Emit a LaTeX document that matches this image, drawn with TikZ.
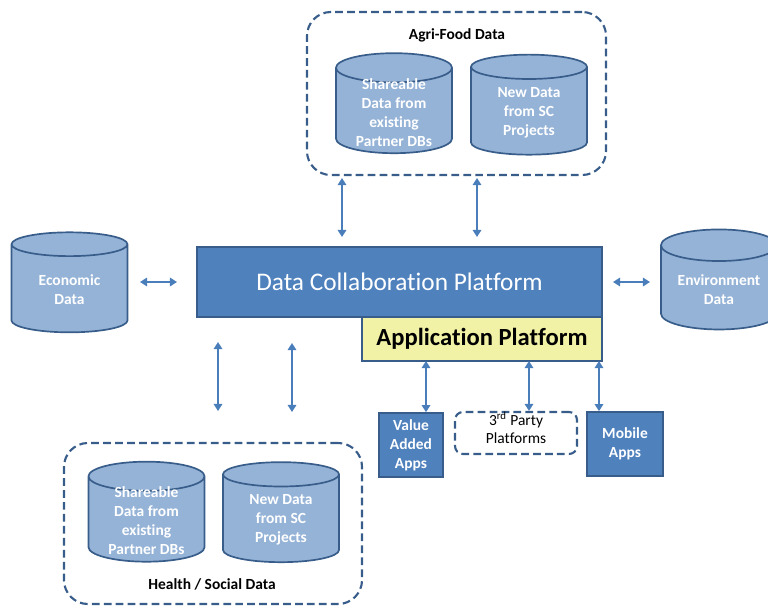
\documentclass[tikz,border=0pt]{standalone}
\usepackage{fontspec}
\setmainfont{Carlito}[Ligatures=NoCommon]
\usetikzlibrary{shapes.geometric,arrows.meta,calc}

\definecolor{dbfill}{RGB}{149,179,215}
\definecolor{dbline}{RGB}{56,93,138}
\definecolor{platfill}{RGB}{79,129,189}
\definecolor{arrowblue}{RGB}{74,126,187}
\definecolor{appyellow}{RGB}{242,242,166}

\begin{document}
\begin{tikzpicture}[
    x=0.025cm, y=-0.025cm,
    db/.style={cylinder, shape border rotate=90, aspect=0.37, draw=dbline, line width=1.2pt, fill=dbfill, text=white, font=\bfseries\fontsize{11}{13.5}\selectfont, align=center, minimum width=2.9cm, minimum height=2.5cm, inner xsep=1pt, inner ysep=-6pt},
    plat/.style={rectangle, draw=dbline, line width=1.2pt, fill=platfill, text=white, align=center},
    group/.style={rectangle, rounded corners=0.6cm, draw=dbline, line width=1.5pt, dash pattern=on 5.5pt off 3pt},
    title/.style={font=\bfseries\fontsize{11}{13.5}\selectfont},
    link/.style={<->, draw=arrowblue, line width=1.3pt},
    >={Triangle[length=5pt,width=6pt]}
]
\clip (0,0) rectangle (768,606);

% data groups
\node[group, minimum width=7.475cm, minimum height=4.075cm] (agri) at (456.5,93.5) {};
\node[title] (agrititle) at (457,35) {Agri-Food Data};
\node[db] (agri1) at (394,112.5) {Shareable\\Data from\\existing\\Partner DBs};
\node[db] (agri2) at (529,112.5) {New Data\\from SC\\Projects};

\node[group, minimum width=7.45cm, minimum height=4.025cm] (health) at (213,523.5) {};
\node[title] (healthtitle) at (212,584) {Health / Social Data};
\node[db] (health1) at (146.5,521) {Shareable\\Data from\\existing\\Partner DBs};
\node[db] (health2) at (281,520) {New Data\\from SC\\Projects};

\node[db] (econ) at (69.5,290) {Economic\\Data};
\node[db] (env) at (719,289.5) {Environment\\Data};

% platforms
\node[plat, minimum width=10.125cm, minimum height=1.75cm, font=\fontsize{18}{22}\selectfont] (dcp) at (399.5,282) {Data Collaboration Platform};
\node[rectangle, draw=dbline, line width=1.2pt, fill=appyellow, minimum width=6cm, minimum height=1.1cm, font=\bfseries\fontsize{17.5}{21}\selectfont] (app) at (482,339) {Application Platform};

% apps
\node[plat, minimum width=1.6cm, minimum height=1.6cm, title] (vaa) at (411,445) {Value\\Added\\Apps};
\node[group, rounded corners=0.2cm, minimum width=3.05cm, minimum height=1.05cm] (third) at (516,433) {};
\node[align=center, font=\fontsize{11}{13.5}\selectfont] (thirdtxt) at (516,428) {3\textsuperscript{rd} Party\\Platforms};
\node[plat, minimum width=1.9cm, minimum height=1.6cm, title] (mob) at (625,444) {Mobile\\Apps};

% free arrow ends
\coordinate (agriA1) at (342,178); \coordinate (agriA2) at (342,237);
\coordinate (agriB1) at (477,178); \coordinate (agriB2) at (477,237);
\coordinate (econR) at (140,282);  \coordinate (dcpL) at (177,282);
\coordinate (dcpR) at (613,282);   \coordinate (envL) at (650,282);
\coordinate (healthA1) at (218,342); \coordinate (healthA2) at (218,411);
\coordinate (healthB1) at (292,343); \coordinate (healthB2) at (292,412);
\coordinate (appA) at (426,361); \coordinate (appB) at (529,361); \coordinate (appC) at (599,361);

\draw[link] (agriA1) -- (agriA2);
\draw[link] (agriB1) -- (agriB2);
\draw[link] (econR) -- (dcpL);
\draw[link] (dcpR) -- (envL);
\draw[link] (healthA1) -- (healthA2);
\draw[link] (healthB1) -- (healthB2);
\draw[link] (appA) -- (appA |- vaa.north);
\draw[link] (appB) -- (appB |- third.north);
\draw[link] (appC) -- (appC |- mob.north);

\end{tikzpicture}
\end{document}
